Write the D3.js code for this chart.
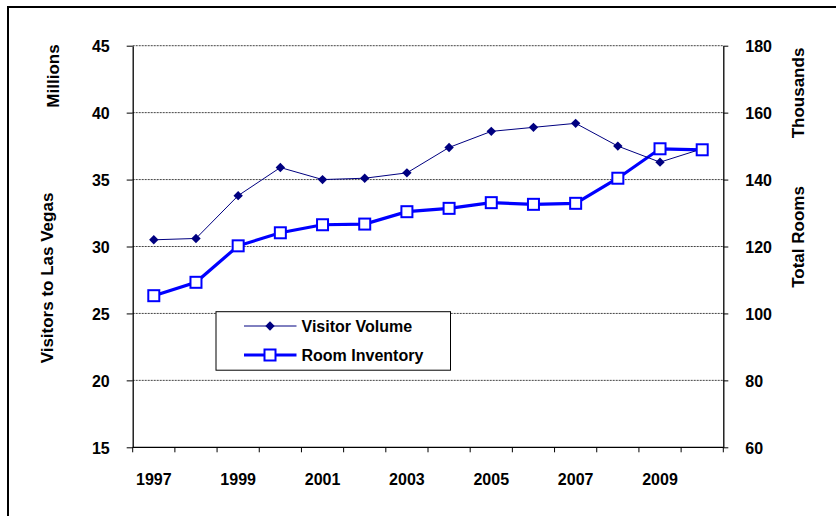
<!DOCTYPE html>
<html>
<head>
<meta charset="utf-8">
<script src="https://cdn.jsdelivr.net/npm/d3@7"></script>
<style>
html,body{margin:0;padding:0;background:#fff;}
svg{display:block;font-family:"Liberation Sans",Arial,sans-serif;}
</style>
</head>
<body>
<svg id="chart" width="836" height="516"></svg>
<script>
const years = [1997,1998,1999,2000,2001,2002,2003,2004,2005,2006,2007,2008,2009,2010];
const visitorVolume = [30.5,30.6,33.8,35.9,35.0,35.1,35.5,37.4,38.6,38.9,39.2,37.5,36.3,37.3];
const roomInventory = [105.3,109.3,120.2,124.1,126.5,126.7,130.4,131.4,133.1,132.6,132.9,140.4,149.2,148.9];
const leftTicks = [15,20,25,30,35,40,45];
const rightTicks = [60,80,100,120,140,160,180];
const yearLabels = [1997,1999,2001,2003,2005,2007,2009];
const seriesNames = ["Visitor Volume","Room Inventory"];

const svg = d3.select("#chart");
const L = 132.7, R = 723.3, T = 45.7, B = 447.3;
const FS = 16, TFS = 17;

// outer frame
svg.append("rect").attr("x",8).attr("y",7).attr("width",840).attr("height",520)
  .attr("fill","none").attr("stroke","#000").attr("stroke-width",2);

const x = d3.scaleBand().domain(years).range([L,R]).padding(0);
const yL = d3.scaleLinear().domain([15,45]).range([B,T]);
const yR = d3.scaleLinear().domain([60,180]).range([B,T]);

// gridlines
svg.append("g").selectAll("line").data(leftTicks.filter(d=>d>15)).join("line")
  .attr("x1",L).attr("x2",R).attr("y1",d=>yL(d)).attr("y2",d=>yL(d))
  .attr("stroke","#444").attr("stroke-width",1).attr("stroke-dasharray","2,1");

// left axis
const gl = svg.append("g").attr("transform",`translate(${L},0)`)
  .call(d3.axisLeft(yL).tickValues(leftTicks).tickSize(6).tickPadding(17).tickSizeOuter(0));
// right axis
const gr = svg.append("g").attr("transform",`translate(${R},0)`)
  .call(d3.axisRight(yR).tickValues(rightTicks).tickSize(5).tickPadding(17).tickSizeOuter(0));
// bottom axis
const xTicks = d3.scaleLinear().domain([0,years.length]).range([L,R]);
const gb = svg.append("g").attr("transform",`translate(0,${B})`);
gb.append("line").attr("x1",L).attr("x2",R).attr("stroke","#000").attr("stroke-width",1.3);
gb.selectAll("line.t").data(d3.range(years.length+1)).join("line").attr("class","t")
  .attr("x1",d=>xTicks(d)).attr("x2",d=>xTicks(d)).attr("y1",0).attr("y2",5)
  .attr("stroke","#000");
gb.selectAll("text").data(yearLabels).join("text")
  .attr("x",d=>x(d)+x.bandwidth()/2).attr("y",38)
  .attr("text-anchor","middle").attr("font-size",FS).attr("font-weight","bold").text(d=>d);

[gl,gr].forEach(g=>{
  g.select(".domain").attr("stroke","#000").attr("stroke-width",1.3);
  g.selectAll(".tick line").attr("stroke","#000");
  g.selectAll(".tick text").attr("font-size",FS).attr("font-weight","bold")
    .attr("font-family","Liberation Sans, Arial, sans-serif").attr("fill","#000")
    .attr("dy","0.36em");
});

// axis titles
function vtext(txt,cx,cy){
  svg.append("text").attr("transform",`translate(${cx},${cy}) rotate(-90)`)
    .attr("text-anchor","middle").attr("dy","0.36em")
    .attr("font-size",TFS).attr("font-weight","bold").text(txt);
}
vtext("Millions",52.5,76);
vtext("Visitors to Las Vegas",47,278);
vtext("Thousands",798,93);
vtext("Total Rooms",798,237);

// lines
const cx = d => x(d)+x.bandwidth()/2;
const lineV = d3.line().x((d,i)=>cx(years[i])).y(d=>yL(d));
const lineR = d3.line().x((d,i)=>cx(years[i])).y(d=>yR(d));

svg.append("path").datum(roomInventory).attr("d",lineR)
  .attr("fill","none").attr("stroke","#0000FF").attr("stroke-width",3.2);
svg.append("path").datum(visitorVolume).attr("d",lineV)
  .attr("fill","none").attr("stroke","#000080").attr("stroke-width",1);

svg.append("g").selectAll("path").data(visitorVolume).join("path")
  .attr("transform",(d,i)=>`translate(${cx(years[i])},${yL(d)}) rotate(45)`)
  .attr("d",d3.symbol().type(d3.symbolSquare).size(44)).attr("fill","#000080");
svg.append("g").selectAll("rect").data(roomInventory).join("rect")
  .attr("x",(d,i)=>cx(years[i])-5.5).attr("y",d=>yR(d)-5.5)
  .attr("width",11).attr("height",11)
  .attr("fill","#fff").attr("stroke","#0000FF").attr("stroke-width",2);

// legend
const lg = svg.append("g");
lg.append("rect").attr("x",216).attr("y",311.7).attr("width",234.5).attr("height",58.5)
  .attr("fill","#fff").attr("stroke","#000").attr("stroke-width",1);
const ly = [326,355];
lg.append("line").attr("x1",244).attr("x2",296.5).attr("y1",ly[0]).attr("y2",ly[0])
  .attr("stroke","#000080").attr("stroke-width",1);
lg.append("path").attr("transform",`translate(270,${ly[0]}) rotate(45)`)
  .attr("d",d3.symbol().type(d3.symbolSquare).size(44)).attr("fill","#000080");
lg.append("line").attr("x1",244).attr("x2",296.5).attr("y1",ly[1]).attr("y2",ly[1])
  .attr("stroke","#0000FF").attr("stroke-width",3.2);
lg.append("rect").attr("x",270-5.5).attr("y",ly[1]-5.5).attr("width",11).attr("height",11)
  .attr("fill","#fff").attr("stroke","#0000FF").attr("stroke-width",2);
lg.selectAll("text").data(seriesNames).join("text")
  .attr("x",301.5).attr("y",(d,i)=>ly[i]).attr("dy","0.36em")
  .attr("font-size",FS).attr("font-weight","bold").text(d=>d);
</script>
</body>
</html>
